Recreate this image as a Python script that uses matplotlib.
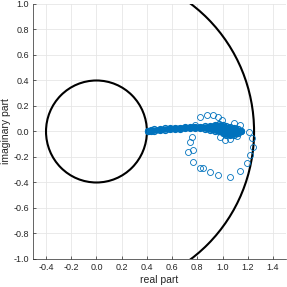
import numpy as np
import matplotlib.pyplot as plt
from matplotlib.patches import Circle

# 黒い円（中心, 半径）
circle_cx = [0.0, 0.0]
circle_r = [0.4, 1.25]

# ループ状に並ぶ固有値
loop_re = [0.822, 0.875, 0.928, 0.967, 0.994, 0.783, 0.769, 0.756, 0.743, 0.729,
           0.769, 0.769, 0.822, 0.846, 0.902, 0.967, 1.060, 1.140, 1.193, 1.219,
           1.243, 1.233, 1.206, 1.140, 1.087, 0.981, 1.021, 1.060, 1.113]
loop_im = [0.111, 0.129, 0.129, 0.111, 0.090, 0.051, 0.038, -0.041, -0.080, -0.158,
           -0.145, -0.237, -0.289, -0.286, -0.315, -0.341, -0.355, -0.307, -0.249, -0.184,
           -0.119, -0.053, -0.002, 0.051, 0.064, -0.041, -0.067, -0.061, -0.035]

# 実軸付近に密集している帯（上端と下端）
band_re = [0.41, 0.43, 0.46, 0.50, 0.54, 0.58, 0.62, 0.66, 0.70, 0.74, 0.78,
           0.82, 0.86, 0.90, 0.94, 0.97, 1.00, 1.03, 1.06, 1.09, 1.12, 1.15]
band_hi = [0.004, 0.010, 0.016, 0.020, 0.024, 0.027, 0.029, 0.031, 0.034, 0.036, 0.038,
           0.039, 0.040, 0.045, 0.052, 0.055, 0.050, 0.040, 0.035, 0.028, 0.018, 0.006]
band_lo = [0.000, 0.004, 0.006, 0.010, 0.014, 0.017, 0.020, 0.023, 0.026, 0.028, 0.030,
           0.028, 0.022, 0.014, 0.006, 0.000, -0.010, -0.025, -0.030, -0.025, -0.014, 0.000]

x_ticks = [-0.4, -0.2, 0.0, 0.2, 0.4, 0.6, 0.8, 1.0, 1.2, 1.4]
y_ticks = [-1.0, -0.8, -0.6, -0.4, -0.2, 0.0, 0.2, 0.4, 0.6, 0.8, 1.0]

blue = "#0072BD"
axis_gray = "#262626"

plt.rcParams['font.family'] = ['Liberation Sans', 'DejaVu Sans']

fig = plt.figure(figsize=(2.87, 2.87), dpi=100)
ax = fig.add_axes([0.1164, 0.0976, 0.8787, 0.8885])

# グリッド
ax.set_axisbelow(True)
ax.grid(True, color="#e6e6e6", linewidth=0.6)

# 円
for cx, r in zip(circle_cx, circle_r):
    ax.add_patch(Circle((cx, 0.0), r, fill=False, edgecolor="black", linewidth=1.5, zorder=3))

# 帯（マーカーが重なって塗りつぶしに見える部分）
ms = 4.3
ax.fill_between(band_re, band_lo, band_hi, facecolor=blue, edgecolor=blue,
                linewidth=3.6, joinstyle="round", capstyle="round", zorder=4)
ax.plot(band_re, band_hi, "o", ms=ms, mfc="none", mec=blue, mew=0.9, zorder=4)
ax.plot(band_re, band_lo, "o", ms=ms, mfc="none", mec=blue, mew=0.9, zorder=4)

# ループ
ax.plot(loop_re, loop_im, "o", ms=ms, mfc="none", mec=blue, mew=0.6, zorder=4)

ax.set_xlim(-0.5, 1.5)
ax.set_ylim(-1.0, 1.0)
ax.set_xticks(x_ticks)
ax.set_yticks(y_ticks)
ax.set_xticklabels([f"{v:.1f}" for v in x_ticks])
ax.set_yticklabels([f"{v:.1f}" for v in y_ticks])
ax.tick_params(direction="in", length=2.5, width=0.5, colors=axis_gray, labelsize=6.5, pad=3)

for side in ["top", "right"]:
    ax.spines[side].set_visible(False)
for side in ["left", "bottom"]:
    ax.spines[side].set_color(axis_gray)
    ax.spines[side].set_linewidth(0.5)

ax.set_xlabel("real part", fontsize=7.5, color=axis_gray, labelpad=2)
ax.set_ylabel("imaginary part", fontsize=7.5, color=axis_gray, labelpad=2)

plt.savefig("out.png", dpi=100)
